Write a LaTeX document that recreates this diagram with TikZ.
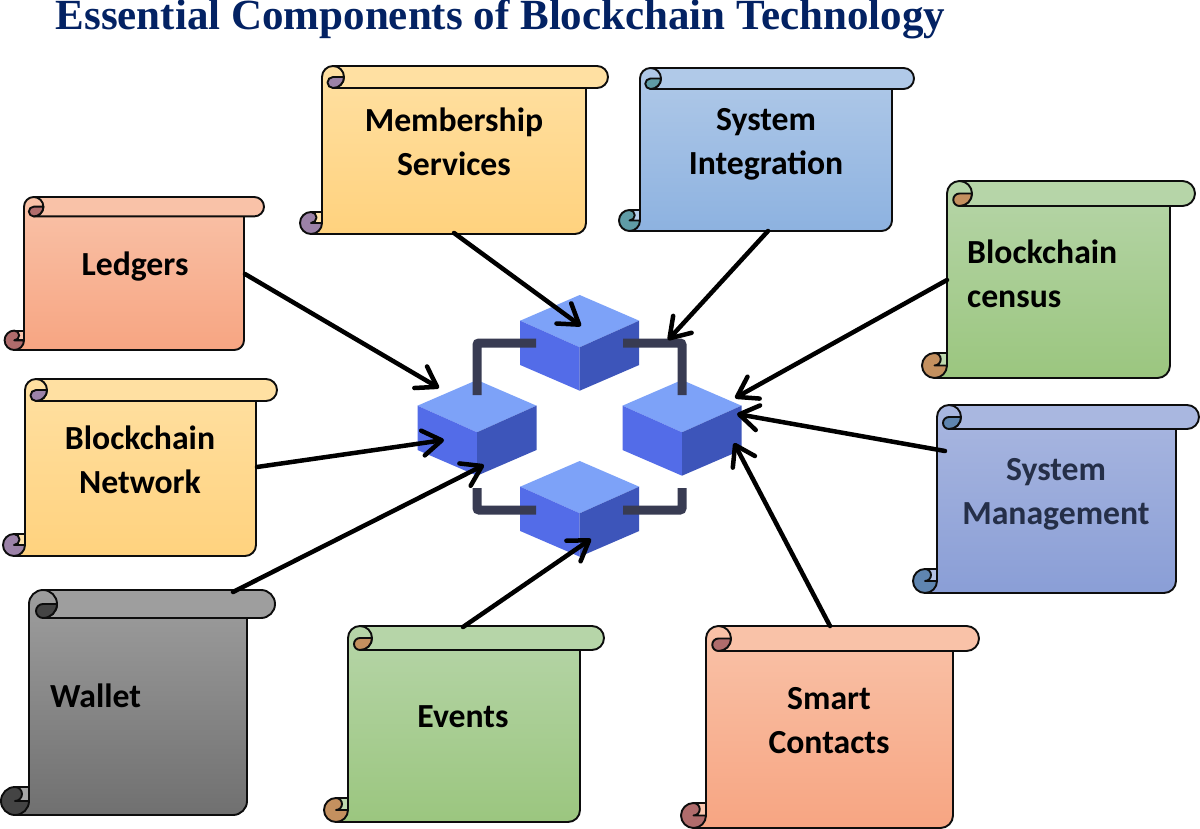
\documentclass[tikz,border=0pt]{standalone}
\usepackage{fontspec}
\setmainfont{Carlito}
\newfontfamily\titlefont{Liberation Serif}
\usetikzlibrary{arrows.meta}
\definecolor{yT}{HTML}{FFE0A2}\definecolor{yB}{HTML}{FFD27E}\definecolor{yD}{HTML}{9C82A8}
\definecolor{bT}{HTML}{B0C9E8}\definecolor{bB}{HTML}{8DB2E0}\definecolor{bD}{HTML}{5F9CA6}
\definecolor{gT}{HTML}{B6D5A8}\definecolor{gB}{HTML}{9BC67F}\definecolor{gD}{HTML}{C4905F}
\definecolor{sT}{HTML}{A9B7E0}\definecolor{sB}{HTML}{8A9ED6}\definecolor{sD}{HTML}{5F85B0}
\definecolor{pT}{HTML}{F9C2A8}\definecolor{pB}{HTML}{F7A582}\definecolor{pD}{HTML}{B06C6C}
\definecolor{kT}{HTML}{9E9E9E}\definecolor{kB}{HTML}{707070}\definecolor{kD}{HTML}{444444}
\definecolor{cubeTop}{HTML}{7DA2F8}\definecolor{cubeL}{HTML}{536CE8}\definecolor{cubeR}{HTML}{3D55BA}
\definecolor{linkc}{HTML}{383B52}\definecolor{titlec}{HTML}{032263}\definecolor{mgmt}{HTML}{252F48}
\tikzset{
  outl/.style={draw=black!95,line width=1.9,line join=round},
  lab/.style={font=\fontsize{33.7}{44}\selectfont\bfseries,align=center,inner sep=0,text=black},
  arr/.style={-{Straight Barb[length=19,width=25,round]},line width=4.5,black,line cap=round},
  link/.style={draw=linkc,line width=9,rounded corners=2}
}
% L T R B RR r top bottom dark
\newcommand{\myscroll}[9]{
  \path[outl,top color=#7,bottom color=#8]
    (#1,#2+#6) arc[start angle=180,end angle=270,radius=#6] -- (#3,#2) -- (#3,#4-#6)
    arc[start angle=0,end angle=90,radius=#6] -- (#1-#6,#4) -- (#1,#4-#6) -- cycle;
  \path[outl,fill=#7]
    (#1+#6,#2) -- (#5-#6,#2) arc[start angle=-90,end angle=90,radius=#6] -- (#1+#6,#2+2*#6)
    arc[start angle=90,end angle=-90,radius=#6] -- cycle;
  \path[outl,fill=#8!60!white!70!#7] (#1-#6,#4-2*#6) -- (#1,#4-2*#6) -- (#1,#4-#6) -- (#1-#6,#4-#6) -- cycle;
  \path[outl,fill=#9]
    (#1+2*#6,#2+#6) -- (#1+#6,#2+#6) arc[start angle=270,end angle=90,radius=#6/2]
    arc[start angle=90,end angle=0,radius=#6] -- cycle;
  \path[outl,fill=#9]
    (#1-#6,#4-2*#6) arc[start angle=270,end angle=90,radius=#6]
    arc[start angle=90,end angle=0,radius=#6] -- (#1-#6,#4-#6)
    arc[start angle=90,end angle=-90,radius=#6/2] -- cycle;
}
% cx apex-y
\newcommand{\mycube}[2]{
  \fill[cubeTop] (#1,#2) -- (#1+59.5,#2+25.7) -- (#1,#2+52.3) -- (#1-59.5,#2+25.7) -- cycle;
  \fill[cubeL] (#1-59.5,#2+25.7) -- (#1,#2+52.3) -- (#1,#2+95.7) -- (#1-59.5,#2+70) -- cycle;
  \fill[cubeR] (#1+59.5,#2+25.7) -- (#1,#2+52.3) -- (#1,#2+95.7) -- (#1+59.5,#2+70) -- cycle;
}
\begin{document}
\begin{tikzpicture}[x=1pt,y=-1pt]
\useasboundingbox[fill=white] (0,0) rectangle (1200,829);
\node[inner sep=0,anchor=base,text=titlec,font=\titlefont\fontsize{43}{43}\selectfont\bfseries] (title) at (500.5,30) {Essential Components of Blockchain Technology};

\myscroll{322}{66}{586}{234}{608}{11}{yT}{yB}{yD}
\myscroll{640}{68}{892}{231}{914}{10.5}{bT}{bB}{bD}
\myscroll{947}{181}{1170}{378}{1195}{12.5}{gT}{gB}{gD}
\myscroll{937}{405}{1176}{593}{1199}{12}{sT}{sB}{sD}
\myscroll{24}{197}{244}{350}{264}{9.7}{pT}{pB}{pD}
\myscroll{25}{379}{256}{556}{277}{11}{yT}{yB}{yD}
\myscroll{29}{590}{247}{815}{275}{14}{kT}{kB}{kD}
\myscroll{348}{626}{580}{822}{604}{12}{gT}{gB}{gD}
\myscroll{706}{626}{953}{828}{979}{12.5}{pT}{pB}{pD}

\mycube{579.7}{295}
\mycube{477}{380}
\mycube{682}{380}
\mycube{579.7}{461}

\draw[link] (536,343) -- (477,343) -- (477,395);
\draw[link] (623,343) -- (682,343) -- (682,395);
\draw[link] (477,488) -- (477,510) -- (536,510);
\draw[link] (682,488) -- (682,510) -- (623,510);

\coordinate (oMem) at (454,233);   \coordinate (iMem) at (581,326);
\coordinate (oInt) at (768,231);   \coordinate (iInt) at (668,340);
\coordinate (oCen) at (947,280);   \coordinate (iCen) at (735,398);
\coordinate (oMan) at (945,451);   \coordinate (iMan) at (737,414);
\coordinate (oSma) at (830,626);   \coordinate (iSma) at (734,443);
\coordinate (oLed) at (245,274);   \coordinate (iLed) at (439,388);
\coordinate (oNet) at (257,467);   \coordinate (iNet) at (444,440);
\coordinate (oWal) at (233,592);   \coordinate (iWal) at (484,465);
\coordinate (oEve) at (463,627);   \coordinate (iEve) at (591,539);
\foreach \n in {Mem,Int,Cen,Man,Sma,Led,Net,Wal,Eve} \draw[arr] (o\n) -- (i\n);

\node[lab] (tMem) at (454,142) {Membership\\Services};
\node[lab] (tInt) at (766,144.5) {System\\Integration};
\node[lab,align=left,anchor=west] (tCen) at (967,273.5) {Blockchain\\census};
\node[lab,text=mgmt] (tMan) at (1056,494.5) {System\\Management};
\node[lab] (tLed) at (135,267) {Ledgers};
\node[lab] (tNet) at (140,460) {Blockchain\\Network};
\node[lab] (tWal) at (95.5,696) {Wallet};
\node[lab] (tEve) at (463,717) {Events};
\node[lab] (tSma) at (829,721) {Smart\\Contacts};
\end{tikzpicture}
\end{document}
